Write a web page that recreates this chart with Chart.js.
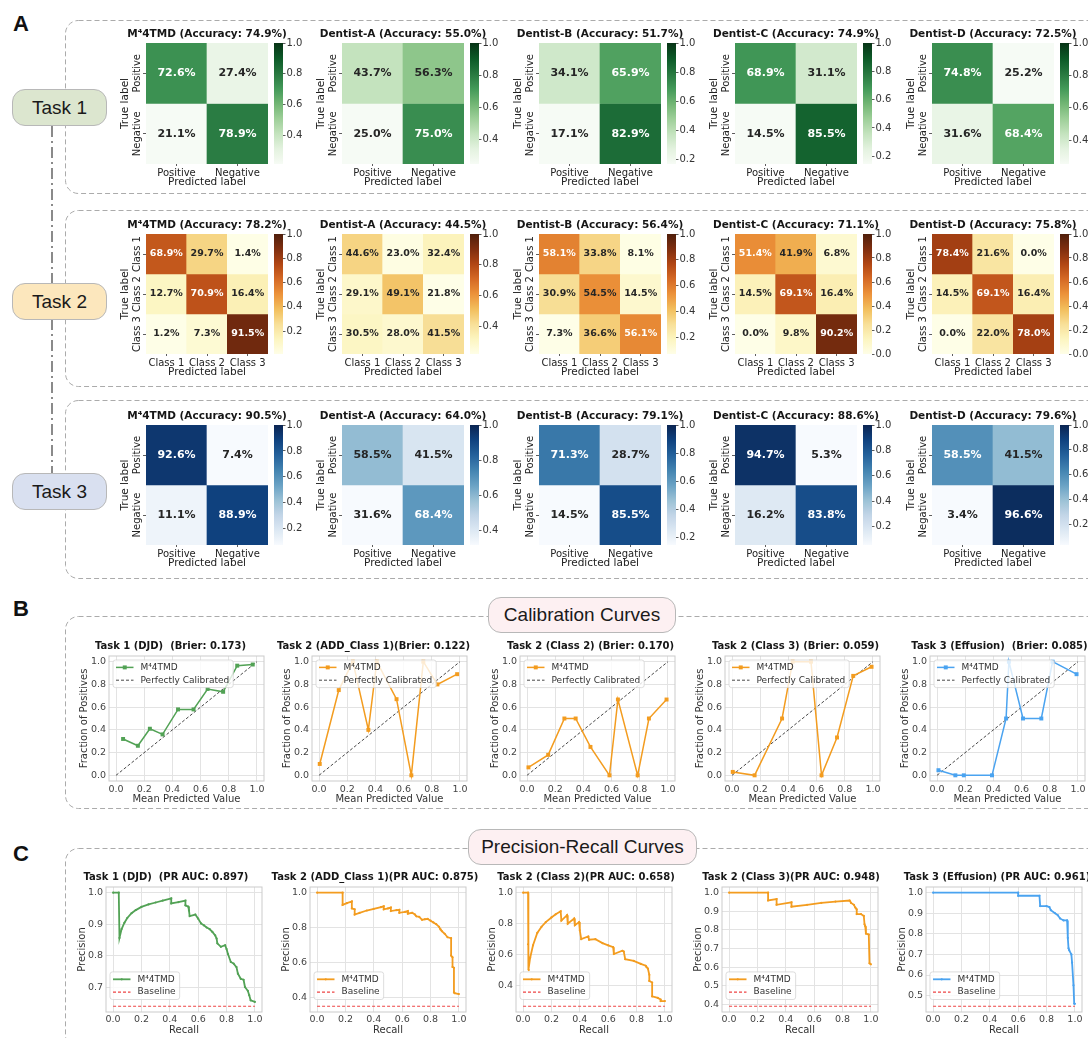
<!DOCTYPE html>
<html>
<head>
<meta charset="utf-8">
<script src="https://cdn.jsdelivr.net/npm/chart.js@4.4.1/dist/chart.umd.min.js"></script>
<style>
  html, body { margin: 0; padding: 0; background: #fff; }
  #page { position: relative; width: 1088px; height: 1038px; overflow: hidden; font-family: 'Liberation Sans', Arial, sans-serif; }
  canvas { position: absolute; }
  .pill { position: absolute; box-sizing: border-box; border: 1.2px solid #b8b8b8; border-radius: 13px;
          display: flex; align-items: center; justify-content: center; font-size: 19px; color: #1a1a1a; }
  .letter { position: absolute; font-weight: bold; font-size: 22px; color: #111; }
</style>
</head>
<body>
<div id="page">
  <svg width="1088" height="1038" style="position:absolute;left:0;top:0">
    <g fill="none" stroke="#ababab" stroke-width="1" stroke-dasharray="5 3">
      <rect x="65.5" y="20.5" width="1040" height="173" rx="13"/>
      <rect x="65.5" y="210.5" width="1040" height="176" rx="13"/>
      <rect x="65.5" y="400.5" width="1040" height="178" rx="13"/>
      <rect x="65.5" y="616.5" width="1040" height="192" rx="13"/>
      <rect x="65.5" y="848.5" width="1040" height="200" rx="13"/>
    </g>
    <g stroke="#8a8a8a" stroke-width="2" stroke-dasharray="11 4 2 4">
      <line x1="52" y1="126" x2="52" y2="283"/>
      <line x1="52" y1="319" x2="52" y2="473"/>
    </g>
  </svg>
  <div class="letter" style="left:13px;top:11px">A</div>
  <div class="letter" style="left:13px;top:596px">B</div>
  <div class="letter" style="left:13px;top:841px">C</div>
  <div class="pill" style="left:12px;top:89px;width:95px;height:37px;background:#dce6cf">Task 1</div>
  <div class="pill" style="left:12px;top:283px;width:95px;height:37px;background:#fce7bd">Task 2</div>
  <div class="pill" style="left:12px;top:473px;width:95px;height:37px;background:#d9e0f0">Task 3</div>
  <div class="pill" style="left:488px;top:597px;width:188px;height:36px;background:#fdf0f2">Calibration Curves</div>
  <div class="pill" style="left:468px;top:829px;width:229px;height:36px;background:#fdf0f2">Precision-Recall Curves</div>
</div>
<script>
// ---- data ----
const raters = ['M⁴4TMD', 'Dentist-A', 'Dentist-B', 'Dentist-C', 'Dentist-D'];
const binaryLabels = ['Positive', 'Negative'];
const classLabels = ['Class 1', 'Class 2', 'Class 3'];

const task1Accuracy = [74.9, 55.0, 51.7, 74.9, 72.5];
const task1Matrices = [
  [[72.6, 27.4], [21.1, 78.9]],
  [[43.7, 56.3], [25.0, 75.0]],
  [[34.1, 65.9], [17.1, 82.9]],
  [[68.9, 31.1], [14.5, 85.5]],
  [[74.8, 25.2], [31.6, 68.4]]
];
const task2Accuracy = [78.2, 44.5, 56.4, 71.1, 75.8];
const task2Matrices = [
  [[68.9, 29.7, 1.4], [12.7, 70.9, 16.4], [1.2, 7.3, 91.5]],
  [[44.6, 23.0, 32.4], [29.1, 49.1, 21.8], [30.5, 28.0, 41.5]],
  [[58.1, 33.8, 8.1], [30.9, 54.5, 14.5], [7.3, 36.6, 56.1]],
  [[51.4, 41.9, 6.8], [14.5, 69.1, 16.4], [0.0, 9.8, 90.2]],
  [[78.4, 21.6, 0.0], [14.5, 69.1, 16.4], [0.0, 22.0, 78.0]]
];
const task3Accuracy = [90.5, 64.0, 79.1, 88.6, 79.6];
const task3Matrices = [
  [[92.6, 7.4], [11.1, 88.9]],
  [[58.5, 41.5], [31.6, 68.4]],
  [[71.3, 28.7], [14.5, 85.5]],
  [[94.7, 5.3], [16.2, 83.8]],
  [[58.5, 41.5], [3.4, 96.6]]
];
const colorbarTicks = [0.0, 0.2, 0.4, 0.6, 0.8, 1.0];

const calTasks = ['Task 1 (DJD)  ', 'Task 2 (ADD_Class 1)', 'Task 2 (Class 2) ', 'Task 2 (Class 3) ', 'Task 3 (Effusion)  '];
const brierScores = [0.173, 0.122, 0.170, 0.059, 0.085];
const calMeanPredicted = [
  [0.05, 0.155, 0.24, 0.33, 0.44, 0.55, 0.65, 0.76, 0.86, 0.97],
  [0.005, 0.14, 0.24, 0.35, 0.41, 0.55, 0.655, 0.74, 0.84, 0.98],
  [0.01, 0.15, 0.265, 0.345, 0.45, 0.585, 0.645, 0.785, 0.865, 0.99],
  [0.005, 0.16, 0.355, 0.43, 0.56, 0.635, 0.745, 0.86, 0.99],
  [0.01, 0.13, 0.19, 0.39, 0.49, 0.51, 0.61, 0.74, 0.82, 0.99]
];
const calFractionPositive = [
  [0.32, 0.26, 0.41, 0.36, 0.58, 0.58, 0.76, 0.735, 0.965, 0.975],
  [0.10, 0.75, 1.0, 0.40, 1.0, 0.67, 0.0, 1.0, 0.80, 0.89],
  [0.07, 0.18, 0.50, 0.50, 0.25, 0.0, 0.667, 0.0, 0.50, 0.667],
  [0.03, 0.0, 0.50, 1.0, 1.0, 0.0, 0.333, 0.875, 0.955],
  [0.045, 0.0, 0.0, 0.0, 0.50, 1.0, 0.50, 0.50, 1.0, 0.89]
];
const perfectLine = [0, 1];
const unitTicks = [0, 0.2, 0.4, 0.6, 0.8, 1.0];

const prTasks = ['Task 1 (DJD)  ', 'Task 2 (ADD_Class 1)', 'Task 2 (Class 2)', 'Task 2 (Class 3)', 'Task 3 (Effusion) '];
const prAuc = [0.897, 0.875, 0.658, 0.948, 0.961];
const prRecall = [
  [0, 0.04, 0.045, 0.06, 0.08, 0.10, 0.13, 0.16, 0.20, 0.25, 0.30, 0.35, 0.41, 0.41, 0.46, 0.51, 0.51, 0.53, 0.535, 0.54, 0.58, 0.60, 0.62, 0.64, 0.66, 0.68, 0.70, 0.72, 0.73, 0.735, 0.76, 0.79, 0.80, 0.81, 0.83, 0.85, 0.87, 0.88, 0.90, 0.92, 0.93, 0.95, 0.96, 0.97, 1.0],
  [0, 0.18, 0.18, 0.21, 0.245, 0.245, 0.265, 0.265, 0.30, 0.35, 0.40, 0.45, 0.47, 0.47, 0.50, 0.52, 0.52, 0.56, 0.58, 0.58, 0.62, 0.64, 0.64, 0.67, 0.69, 0.70, 0.72, 0.74, 0.76, 0.78, 0.80, 0.82, 0.84, 0.86, 0.87, 0.88, 0.90, 0.92, 0.945, 0.945, 0.955, 0.955, 0.965, 0.965, 0.97, 1.0],
  [0, 0.035, 0.035, 0.04, 0.05, 0.07, 0.10, 0.13, 0.16, 0.20, 0.23, 0.265, 0.27, 0.31, 0.315, 0.36, 0.365, 0.395, 0.40, 0.41, 0.46, 0.465, 0.51, 0.56, 0.60, 0.635, 0.64, 0.70, 0.71, 0.72, 0.78, 0.83, 0.865, 0.87, 0.88, 0.89, 0.89, 0.91, 0.91, 0.95, 0.97, 0.97, 1.0],
  [0, 0.275, 0.275, 0.335, 0.335, 0.44, 0.44, 0.55, 0.65, 0.75, 0.85, 0.86, 0.88, 0.89, 0.90, 0.90, 0.93, 0.95, 0.955, 0.96, 0.965, 0.985, 0.99, 1.0],
  [0, 0.60, 0.60, 0.75, 0.755, 0.80, 0.82, 0.83, 0.86, 0.88, 0.895, 0.92, 0.945, 0.95, 0.955, 0.96, 0.975, 0.98, 0.99, 0.995, 1.0]
];
const prPrecision = [
  [1.0, 1.0, 0.857, 0.885, 0.905, 0.92, 0.935, 0.945, 0.955, 0.963, 0.969, 0.975, 0.982, 0.966, 0.97, 0.975, 0.96, 0.956, 0.944, 0.926, 0.931, 0.918, 0.903, 0.897, 0.89, 0.885, 0.876, 0.865, 0.855, 0.84, 0.829, 0.834, 0.822, 0.806, 0.781, 0.776, 0.765, 0.744, 0.728, 0.725, 0.702, 0.69, 0.676, 0.66, 0.655],
  [1.0, 1.0, 0.93, 0.94, 0.95, 0.91, 0.905, 0.875, 0.885, 0.898, 0.908, 0.917, 0.922, 0.905, 0.91, 0.915, 0.895, 0.9, 0.902, 0.885, 0.89, 0.895, 0.88, 0.885, 0.875, 0.865, 0.862, 0.845, 0.848, 0.85, 0.84, 0.83, 0.82, 0.805, 0.79, 0.78, 0.765, 0.745, 0.74, 0.64, 0.63, 0.575, 0.57, 0.43, 0.425, 0.42],
  [1.0, 1.0, 0.667, 0.50, 0.58, 0.66, 0.74, 0.78, 0.81, 0.84, 0.86, 0.88, 0.82, 0.855, 0.80, 0.833, 0.79, 0.81, 0.757, 0.70, 0.717, 0.696, 0.70, 0.674, 0.66, 0.648, 0.604, 0.625, 0.62, 0.57, 0.56, 0.54, 0.528, 0.52, 0.51, 0.47, 0.43, 0.42, 0.33, 0.32, 0.31, 0.30, 0.30],
  [1.0, 1.0, 0.958, 0.966, 0.935, 0.948, 0.925, 0.935, 0.945, 0.952, 0.958, 0.945, 0.935, 0.92, 0.91, 0.885, 0.885, 0.875, 0.83, 0.82, 0.78, 0.775, 0.62, 0.615],
  [1.0, 1.0, 0.985, 0.985, 0.935, 0.935, 0.93, 0.915, 0.90, 0.89, 0.875, 0.865, 0.865, 0.78, 0.73, 0.72, 0.70, 0.66, 0.55, 0.46, 0.46]
];
const prBaseline = [0.641, 0.35, 0.266, 0.389, 0.448];
const recallSpan = [0, 1];
const prYTicks = [
  [0.7, 0.8, 0.9, 1.0],
  [0.4, 0.6, 0.8, 1.0],
  [0.4, 0.6, 0.8, 1.0],
  [0.4, 0.5, 0.6, 0.7, 0.8, 0.9, 1.0],
  [0.5, 0.6, 0.7, 0.8, 0.9, 1.0]
];
const curveColors = ['#52a255', '#f39c1f', '#f39c1f', '#f39c1f', '#4aa3f0'];

// ---- colour maps (matplotlib Greens / YlOrBr / Blues, toned down a little) ----
const cmaps = {
  Greens: ['#f7fcf5', '#e5f5e0', '#c7e9c0', '#a1d99b', '#74c476', '#41ab5d', '#238b45', '#006d2c', '#00441b'],
  YlOrBr: ['#ffffe5', '#fff7bc', '#fee391', '#fec44f', '#fe9929', '#ec7014', '#cc4c02', '#993404', '#662506'],
  Blues: ['#f7fbff', '#deebf7', '#c6dbef', '#9ecae1', '#6baed6', '#4292c6', '#2171b5', '#08519c', '#08306b']
};
function hexRgb(h) { return [1, 3, 5].map(i => parseInt(h.slice(i, i + 2), 16)); }
function sampleMap(name, t) {
  const stops = cmaps[name].map(hexRgb);
  t = Math.min(1, Math.max(0, t)) * (stops.length - 1);
  const i = Math.min(Math.floor(t), stops.length - 2), f = t - i;
  const raw = stops[i].map((c, k) => c + (stops[i + 1][k] - c) * f);
  const g = raw.map(v => 255 * Math.pow(v / 255, 1.15));
  const L = 0.3 * g[0] + 0.59 * g[1] + 0.11 * g[2];
  return g.map(v => Math.round(v * 0.8 + L * 0.2));
}
const rgbStr = c => 'rgb(' + c.join(',') + ')';
function textOn(c) {
  const lin = v => { v /= 255; return v <= 0.03928 ? v / 12.92 : Math.pow((v + 0.055) / 1.055, 2.4); };
  const L = 0.2126 * lin(c[0]) + 0.7152 * lin(c[1]) + 0.0722 * lin(c[2]);
  return L > 0.37 ? '#262626' : '#ffffff';
}

// ---- chart setup ----
Chart.defaults.font.family = '"DejaVu Sans", sans-serif';
Chart.defaults.color = '#333';
Chart.defaults.animation = false;
Chart.defaults.responsive = false;
Chart.defaults.plugins.legend.display = false;
Chart.defaults.plugins.tooltip.enabled = false;

const plotTitle = {
  id: 'plotTitle',
  afterDraw(chart, args, opts) {
    if (!opts.text) return;
    const { ctx, chartArea } = chart;
    ctx.save();
    ctx.font = 'bold ' + opts.size + 'px "DejaVu Sans"';
    ctx.fillStyle = '#161616';
    ctx.textAlign = 'center';
    ctx.textBaseline = 'middle';
    ctx.fillText(opts.text, (chartArea.left + chartArea.right) / 2 + (opts.dx || 0), chartArea.top - opts.gap);
    ctx.restore();
  }
};

const heatCells = {
  id: 'heatCells',
  afterDatasetsDraw(chart, args, opts) {
    if (!opts.size) return;
    const { ctx, chartArea } = chart;
    const labels = chart.data.labels, n = labels.length;
    ctx.save();
    ctx.font = 'bold ' + opts.size + 'px "DejaVu Sans"';
    ctx.textAlign = 'center';
    ctx.textBaseline = 'middle';
    chart.data.datasets.forEach((ds, r) => {
      chart.getDatasetMeta(r).data.forEach((bar, c) => {
        ctx.fillStyle = ds.textColors[c];
        ctx.fillText(ds.values[c].toFixed(1) + '%', bar.x, (bar.y + bar.base) / 2);
      });
    });
    ctx.font = '10px "DejaVu Sans"';
    ctx.fillStyle = '#222';
    labels.forEach((lab, r) => {
      ctx.save();
      ctx.translate(chartArea.left - 9, chart.scales.y.getPixelForValue(n - r - 0.5));
      ctx.rotate(-Math.PI / 2);
      ctx.fillText(lab, 0, 0);
      ctx.restore();
    });
    ctx.restore();
  }
};

const frameBox = {
  id: 'frameBox',
  beforeDatasetsDraw(chart, args, opts) {
    if (!opts.on) return;
    const { ctx, chartArea: a } = chart;
    ctx.save();
    ctx.strokeStyle = '#cbcbcb';
    ctx.lineWidth = 1;
    ctx.strokeRect(a.left, a.top, a.right - a.left, a.bottom - a.top);
    ctx.restore();
  }
};

const insideLegend = {
  id: 'insideLegend',
  afterDatasetsDraw(chart, args, opts) {
    if (!opts.corner) return;
    const { ctx, chartArea } = chart;
    const sets = chart.data.datasets;
    ctx.save();
    ctx.font = '9px "DejaVu Sans"';
    const textW = Math.max(...sets.map(s => ctx.measureText(s.label).width));
    const rowH = 12.8, sample = 17.5, gap = 7;
    const boxW = 3 + sample + gap + textW + 4;
    const boxH = sets.length * rowH + 2;
    const x0 = chartArea.left + opts.dx;
    const y0 = opts.corner === 'tl' ? chartArea.top + opts.dy : chartArea.bottom - opts.dy - boxH;
    ctx.beginPath();
    if (ctx.roundRect) ctx.roundRect(x0, y0, boxW, boxH, 2.5); else ctx.rect(x0, y0, boxW, boxH);
    ctx.fillStyle = 'rgba(255,255,255,0.8)';
    ctx.fill();
    ctx.strokeStyle = '#d4d4d4';
    ctx.lineWidth = 0.8;
    ctx.stroke();
    sets.forEach((s, i) => {
      const y = y0 + 1 + rowH * (i + 0.5);
      const x1 = x0 + 3, x2 = x1 + sample;
      ctx.strokeStyle = s.borderColor;
      ctx.lineWidth = s.borderWidth;
      ctx.setLineDash(s.borderDash || []);
      ctx.beginPath(); ctx.moveTo(x1, y); ctx.lineTo(x2, y); ctx.stroke();
      ctx.setLineDash([]);
      if (s.pointRadius > 0) {
        const xm = (x1 + x2) / 2;
        ctx.fillStyle = s.borderColor;
        if (s.pointStyle === 'rect') {
          const h = s.pointRadius * Math.SQRT1_2;
          ctx.fillRect(xm - h, y - h, 2 * h, 2 * h);
        } else {
          ctx.beginPath(); ctx.arc(xm, y, s.pointRadius, 0, Math.PI * 2); ctx.fill();
        }
      }
      ctx.fillStyle = '#333';
      ctx.textAlign = 'left';
      ctx.textBaseline = 'middle';
      ctx.fillText(s.label, x2 + gap, y);
    });
    ctx.restore();
  }
};

Chart.register(plotTitle, heatCells, frameBox, insideLegend);

const page = document.getElementById('page');
function makeCanvas(x, y, w, h) {
  const c = document.createElement('canvas');
  c.width = w; c.height = h;
  c.style.left = x + 'px'; c.style.top = y + 'px';
  c.style.width = w + 'px'; c.style.height = h + 'px';
  page.appendChild(c);
  return c;
}

// ---- panel A: confusion matrices ----
const heatLefts = [146, 342, 539, 735, 932];
const barLefts = [274, 470, 667, 863, 1060];
const rowTops = [43, 234, 425];
const rowHeights = [121, 120, 120];
const heatW = 122;
const titleRoom = 48;

function heatmap(matrix, labels, cmap, title, x, y, h) {
  const n = labels.length;
  const vmin = Math.min(...matrix.flat()) / 100;
  const shade = v => sampleMap(cmap, (v / 100 - vmin) / (1 - vmin));
  const canvas = makeCanvas(x - 27, y - 18, 27 + heatW + titleRoom, 18 + h + 25);
  new Chart(canvas, {
    type: 'bar',
    data: {
      labels: labels,
      datasets: matrix.map((row, r) => ({
        data: row.map(() => [n - 1 - r, n - r]),
        values: row,
        textColors: row.map(v => textOn(shade(v))),
        backgroundColor: row.map(v => rgbStr(shade(v))),
        grouped: false, barPercentage: 1, categoryPercentage: 1, borderWidth: 0
      }))
    },
    options: {
      layout: { padding: { top: 18, right: titleRoom, left: 0, bottom: 0 } },
      plugins: { plotTitle: { text: title, size: 10.5, gap: 9 }, heatCells: { size: n === 2 ? 11 : 9.5 } },
      scales: {
        x: {
          grid: { drawOnChartArea: false, offset: false, tickLength: 2, color: '#333', lineWidth: 0.8 },
          border: { display: false },
          ticks: { font: { size: 10 }, color: '#222', padding: 1, maxRotation: 0, autoSkip: false },
          title: { display: true, text: 'Predicted label', font: { size: 10.5 }, color: '#222', padding: 0 },
          afterFit: s => { s.height = 25; }
        },
        y: {
          min: 0, max: n,
          grid: { drawOnChartArea: false, tickLength: 3, color: '#333', lineWidth: 0.8 },
          border: { display: false },
          ticks: { display: false },
          afterBuildTicks: s => { s.ticks = labels.map((_, r) => ({ value: r + 0.5 })); },
          title: { display: true, text: 'True label', font: { size: 10.5 }, color: '#222', padding: 0 },
          afterFit: s => { s.width = 27; }
        }
      }
    }
  });
  return vmin;
}

function colorbar(vmin, cmap, x, y, h) {
  const canvas = makeCanvas(x, y - 7, 9 + 24, h + 14);
  new Chart(canvas, {
    type: 'bar',
    data: {
      labels: [''],
      datasets: [{
        data: [[vmin, 1]],
        backgroundColor: c => {
          const a = c.chart.chartArea;
          if (!a) return rgbStr(sampleMap(cmap, 0.5));
          const g = c.chart.ctx.createLinearGradient(0, a.bottom, 0, a.top);
          for (let k = 0; k <= 24; k++) g.addColorStop(k / 24, rgbStr(sampleMap(cmap, k / 24)));
          return g;
        },
        barPercentage: 1, categoryPercentage: 1, borderWidth: 0
      }]
    },
    options: {
      layout: { padding: { top: 7, bottom: 7, left: 0, right: 0 } },
      scales: {
        x: { display: false },
        y: {
          position: 'right', min: vmin, max: 1,
          grid: { drawOnChartArea: false, tickLength: 2.5, color: '#333', lineWidth: 0.8 },
          border: { display: false },
          ticks: { font: { size: 10 }, color: '#333', padding: 1, callback: v => v.toFixed(1) },
          afterBuildTicks: s => { s.ticks = colorbarTicks.filter(t => t >= vmin - 1e-9).map(t => ({ value: t })); },
          afterFit: s => { s.width = 24; }
        }
      }
    }
  });
}

const taskRows = [
  { mats: task1Matrices, acc: task1Accuracy, labels: binaryLabels, cmap: 'Greens' },
  { mats: task2Matrices, acc: task2Accuracy, labels: classLabels, cmap: 'YlOrBr' },
  { mats: task3Matrices, acc: task3Accuracy, labels: binaryLabels, cmap: 'Blues' }
];
taskRows.forEach((row, t) => {
  row.mats.forEach((m, i) => {
    const title = raters[i] + ' (Accuracy: ' + row.acc[i].toFixed(1) + '%)';
    const vmin = heatmap(m, row.labels, row.cmap, title, heatLefts[i], rowTops[t], rowHeights[t]);
    colorbar(vmin, row.cmap, barLefts[i], rowTops[t], rowHeights[t]);
  });
});

// ---- panels B and C: curves ----
function padded(values) {
  const lo = Math.min(...values), hi = Math.max(...values), m = (hi - lo) * 0.05;
  return [lo - m, hi + m];
}

const sideRoom = 24;
function curveChart(cfg) {
  const W = cfg.yWidth;
  const canvas = makeCanvas(cfg.x - W - sideRoom, cfg.y - 17, sideRoom + W + cfg.w + sideRoom, 17 + cfg.h + 24);
  const xr = padded(cfg.xValues), yr = padded(cfg.yValues);
  const axis = (range, ticks, title, extra) => Object.assign({
    type: 'linear', min: range[0], max: range[1],
    afterBuildTicks: s => { s.ticks = ticks.map(v => ({ value: v })); },
    ticks: { font: { size: 9.5 }, color: '#444', maxRotation: 0, autoSkip: false, callback: v => v.toFixed(1) },
    grid: { color: '#e3e3e3', lineWidth: 1, drawTicks: false },
    border: { display: false },
    title: { display: true, text: title, font: { size: 10 }, color: '#333', padding: 0 }
  }, extra);
  const xAxis = axis(xr, unitTicks, cfg.xTitle, { afterFit: s => { s.height = 24; } });
  xAxis.ticks.padding = cfg.xPad;
  const yAxis = axis(yr, cfg.yTicks, cfg.yTitle, { afterFit: s => { s.width = W; } });
  yAxis.ticks.padding = 3;
  new Chart(canvas, {
    type: 'line',
    data: { datasets: cfg.datasets },
    options: {
      layout: { padding: { top: 17, right: sideRoom, left: sideRoom, bottom: 0 } },
      plugins: {
        plotTitle: { text: cfg.title, size: 10, gap: 9.5, dx: cfg.titleDx },
        frameBox: { on: true },
        insideLegend: cfg.legend
      },
      scales: { x: xAxis, y: yAxis }
    }
  });
}

const calLefts = [109, 312, 520, 725, 930];
const calTitleDx = [-16, -16, -7, -7, -8];
calTasks.forEach((task, i) => {
  const c = curveColors[i];
  curveChart({
    x: calLefts[i], y: 656, w: 155, h: 125, yWidth: 31, xPad: 3, titleDx: calTitleDx[i],
    title: task + '(Brier: ' + brierScores[i].toFixed(3) + ')',
    xTitle: 'Mean Predicted Value', yTitle: 'Fraction of Positives',
    xValues: calMeanPredicted[i].concat(perfectLine),
    yValues: calFractionPositive[i].concat(perfectLine),
    yTicks: unitTicks,
    legend: { corner: 'tl', dx: 4, dy: 4 },
    datasets: [
      {
        label: 'M⁴4TMD',
        data: calMeanPredicted[i].map((x, k) => ({ x: x, y: calFractionPositive[i][k] })),
        borderColor: c, backgroundColor: c, borderWidth: 1.5,
        pointStyle: 'rect', pointRadius: 2.8, pointBorderWidth: 0, pointBackgroundColor: c
      },
      {
        label: 'Perfectly Calibrated',
        data: perfectLine.map(v => ({ x: v, y: v })),
        borderColor: '#333', borderWidth: 0.9, borderDash: [3, 2], pointRadius: 0
      }
    ]
  });
});

const prLefts = [106, 310, 516, 722, 926];
const prTitleDx = [-18, -13, -8, -9, -7];
prTasks.forEach((task, i) => {
  const c = curveColors[i];
  curveChart({
    x: prLefts[i], y: 887, w: 156, h: 125, yWidth: 30, xPad: 2, titleDx: prTitleDx[i],
    title: task + '(PR AUC: ' + prAuc[i].toFixed(3) + ')',
    xTitle: 'Recall', yTitle: 'Precision',
    xValues: prRecall[i].concat(recallSpan),
    yValues: prPrecision[i].concat([prBaseline[i]]),
    yTicks: prYTicks[i],
    legend: { corner: 'bl', dx: 4, dy: 12.5 },
    datasets: [
      {
        label: 'M⁴4TMD',
        data: prRecall[i].map((x, k) => ({ x: x, y: prPrecision[i][k] })),
        borderColor: c, backgroundColor: c, borderWidth: 1.8,
        pointRadius: 1.1, pointBorderWidth: 0, pointBackgroundColor: c
      },
      {
        label: 'Baseline',
        data: recallSpan.map(x => ({ x: x, y: prBaseline[i] })),
        borderColor: '#ee4444', borderWidth: 1.1, borderDash: [3, 2], pointRadius: 0
      }
    ]
  });
});
</script>
</body>
</html>
